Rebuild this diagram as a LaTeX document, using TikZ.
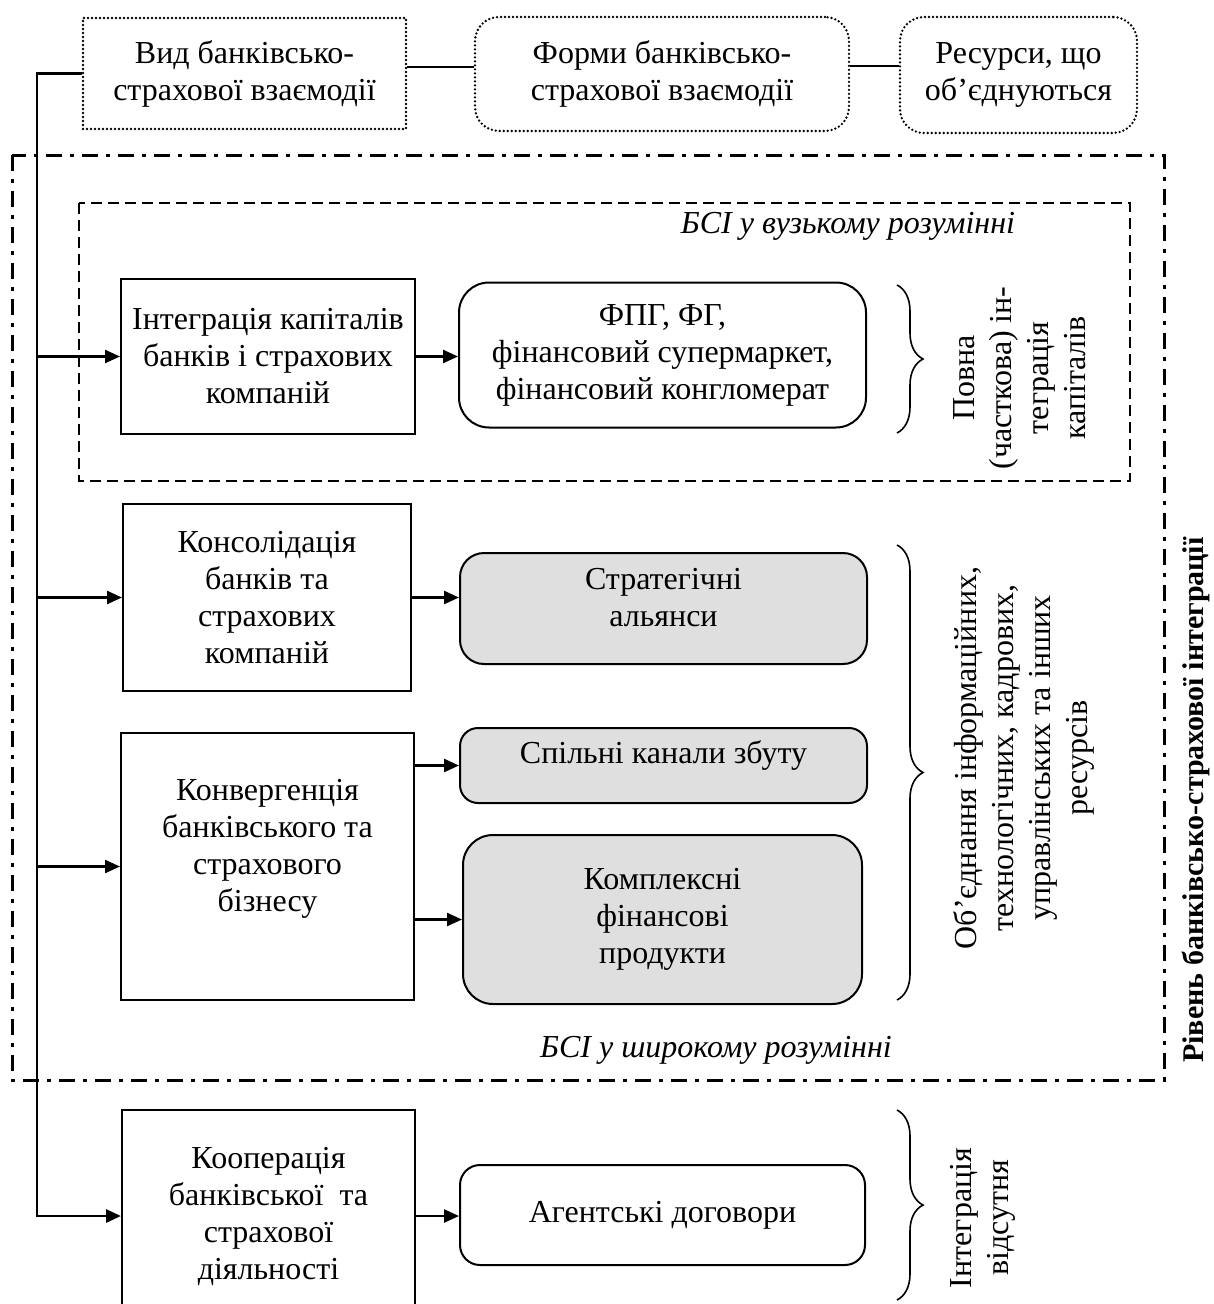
\documentclass[tikz,border=0pt]{standalone}
\usepackage{fontspec}
\setmainfont{Liberation Serif}
\usetikzlibrary{arrows.meta,decorations.pathreplacing}
\tikzset{
  txt/.style={font=\fontsize{32}{37}\selectfont, align=center},
  wh/.style 2 args={minimum width=#1pt, minimum height=#2pt},
  box/.style={txt, draw, line width=2pt, inner sep=0pt},
  rbox/.style={box, rounded corners=24pt},
  shbox/.style={rbox, fill=gray!25},
  dotbox/.style={txt, draw, line width=2.6pt, line cap=round, dash pattern=on 0pt off 4pt, inner sep=0pt},
  arr/.style={line width=2.4pt, -{Triangle[length=15pt,width=13pt]}},
  brc/.style={decorate, decoration={brace, amplitude=26pt}, line width=1.6pt},
  side/.style={txt, rotate=90},
}
\begin{document}
\begin{tikzpicture}[x=1pt,y=-1pt]
\useasboundingbox (0,0) rectangle (1214,1304);
%Cadres
\draw [line width=3pt, dash pattern=on 16pt off 8pt on 4pt off 8pt] (12,155) rectangle (1164,1080);
\draw [line width=2.4pt, dash pattern=on 11pt off 6pt] (79,203) rectangle (1130,481);
%En-tete
\node [dotbox, wh={323}{111}] (vid) at (244.5,73.5) {Вид банківсько-\\страхової взаємодії};
\node [dotbox, rounded corners=24pt, wh={374}{114}] (form) at (662,74) {Форми банківсько-\\страхової взаємодії};
\node [dotbox, rounded corners=24pt, wh={237}{116}] (res) at (1018.5,75) {Ресурси, що\\об’єднуються};
\draw [line width=2pt] ([yshift=7pt]vid.east) -- ([yshift=7pt]vid.east -| form.west);
\draw [line width=2pt] ([yshift=8pt]form.east) -- ([yshift=8pt]form.east -| res.west);
%Blocs
\node [box, wh={294}{155}] (integr) at (268,356.5) {Інтеграція капіталів\\банків і страхових\\компаній};
\node [rbox, rounded corners=30pt, wh={407}{145}] (fpg) at (662.5,355) {ФПГ, ФГ,\\фінансовий супермаркет,\\фінансовий конгломерат};
\node [box, wh={288}{187}] (kons) at (267,597.5) {Консолідація\\банків та\\страхових\\компаній};
\node [shbox, wh={407}{111}] (strat) at (663.5,608.5) {};
\node [txt] (strattxt) at ([yshift=11pt]strat.center) {Стратегічні\\альянси};
\node [box, wh={293}{267}] (konv) at (267.5,866.5) {};
\node [txt] (konvtxt) at ([yshift=18pt]konv.center) {Конвергенція\\банківського та\\страхового\\бізнесу};
\node [shbox, rounded corners=18pt, wh={407}{75}] (spil) at (663.5,765.5) {};
\node [txt] (spiltxt) at ([yshift=10pt]spil.center) {Спільні канали збуту};
\node [shbox, rounded corners=30pt, wh={399}{169}] (kompl) at (662.5,919.5) {Комплексні\\фінансові\\продукти};
\node [box, wh={293}{212}] (coop) at (268.5,1216) {Кооперація\\банківської\ \ та\\страхової\\діяльності};
\node [rbox, rounded corners=20pt, wh={405}{100}] (agent) at (662.5,1215) {Агентські договори};
%Fleches
\coordinate (sp) at (37,0);
\draw [arr, line width=2.8pt] (vid.west) -- (sp |- vid.west) -- (sp |- coop.west) -- (coop.west);
\foreach \b in {integr,kons,konv}
  \draw [arr] (sp |- \b.west) -- (\b.west);
\draw [arr] (integr.east) -- (integr.east -| fpg.west);
\draw [arr] (kons.east |- strattxt) -- (strattxt -| strat.west);
\draw [arr] (konv.east |- spil.west) -- (spil.west);
\draw [arr] (konv.east |- kompl.west) -- (kompl.west);
\draw [arr] (coop.east) -- (coop.east -| agent.west);
%Accolades
\draw [brc] (897,285) -- (897,433);
\draw [brc] (897,545) -- (897,1000);
\draw [brc] (897,1110) -- (897,1300);
%Textes
\node [side] (capit) at (1020,378) {Повна\\(часткова) ін-\\теграція\\капіталів};
\node [side] (resurs) at (1024,758) {Об’єднання інформаційних,\\технологічних, кадрових,\\управлінських та інших\\ресурсів};
\node [side] (none) at (983,1218) {Інтеграція\\відсутня};
\node [side, font=\fontsize{30}{35}\selectfont\bfseries] (level) at (1196,800) {Рівень банківсько-страхової інтеграції};
\node [txt, font=\fontsize{32}{37}\selectfont\itshape] (narrow) at (848,226) {БСІ у вузькому розумінні};
\node [txt, font=\fontsize{32}{37}\selectfont\itshape] (wide) at (716,1050) {БСІ у широкому розумінні};
\end{tikzpicture}
\end{document}
